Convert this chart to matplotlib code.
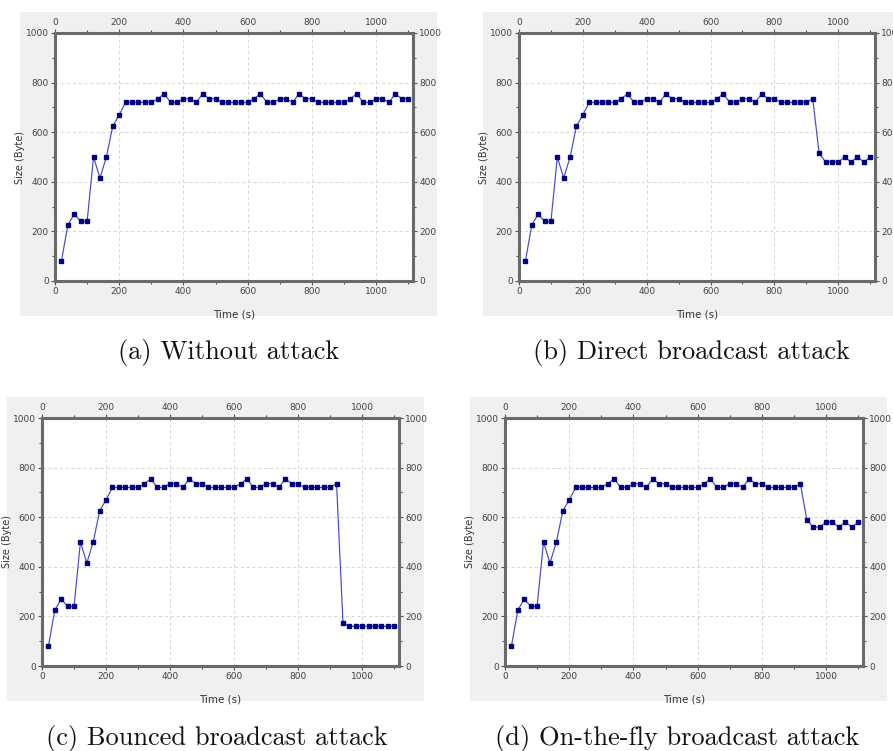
import matplotlib
matplotlib.use("Agg")
import matplotlib.pyplot as plt
from matplotlib.patches import Rectangle
from matplotlib.ticker import MultipleLocator

W, H = 893, 751

time_s = list(range(20, 1101, 20))

common = [80, 225, 270, 240, 240, 500, 415, 500, 625, 670,
          720, 720, 720, 720, 720, 735, 755, 720, 720, 735,
          735, 720, 755, 735, 735, 720, 720, 720, 720, 720,
          735, 755, 720, 720, 735, 735, 720, 755, 735, 735,
          720, 720, 720, 720, 720, 735]  # t = 20 .. 920

without_tail = [755, 720, 720, 735, 735, 720, 755, 735, 735]
direct_tail = [515, 480, 480, 480, 500, 480, 500, 480, 500]
bounced_tail = [175, 160, 160, 160, 160, 160, 160, 160, 160]
onthefly_tail = [590, 560, 560, 580, 580, 560, 580, 560, 580]

size_without = common + without_tail
size_direct = common + direct_tail
size_bounced = common + bounced_tail
size_onthefly = common + onthefly_tail

captions = ["(a) Without attack", "(b) Direct broadcast attack",
            "(c) Bounced broadcast attack", "(d) On-the-fly broadcast attack"]
series = [size_without, size_direct, size_bounced, size_onthefly]

layouts = [
    ((20, 12, 437, 316), (55, 33, 413, 281), 229, 352),
    ((483, 12, 893, 316), (519, 33, 875, 281), 691, 352),
    ((7, 397, 424, 701), (42, 418, 399, 666), 217, 738),
    ((470, 397, 887, 701), (505, 418, 863, 666), 677, 738),
]

fig = plt.figure(figsize=(W / 100, H / 100), dpi=100)
fig.patch.set_facecolor("white")

tick_family = ["Liberation Sans Narrow", "DejaVu Sans"]
tick_color = "#4a4040"

for (bg, axr, cx, cy), ys, cap in zip(layouts, series, captions):
    bx0, by0, bx1, by1 = bg
    fig.patches.append(Rectangle((bx0 / W, 1 - by1 / H), (bx1 - bx0) / W, (by1 - by0) / H,
                                 transform=fig.transFigure, facecolor="#f0f0f0",
                                 edgecolor="none", zorder=-5))
    x0, y0, x1, y1 = axr
    aw, ah = x1 - x0, y1 - y0
    ax = fig.add_axes([x0 / W, 1 - y1 / H, aw / W, ah / H], zorder=2)
    ax.set_facecolor("white")
    ax.plot(time_s, ys, color="#4848cc", lw=0.85, marker="s", markersize=3.0,
            markerfacecolor="#000080", markeredgecolor="#000080", zorder=3)
    ax.set_xlim(0, 1115)
    ax.set_ylim(0, 1000)
    ax.xaxis.set_major_locator(MultipleLocator(200))
    ax.xaxis.set_minor_locator(MultipleLocator(100))
    ax.yaxis.set_major_locator(MultipleLocator(200))
    ax.yaxis.set_minor_locator(MultipleLocator(100))
    ax.grid(True, which="major", color="#d4d4d4", linestyle=(0, (3, 3)), lw=0.7)
    ax.set_axisbelow(True)
    for sp in ax.spines.values():
        sp.set_color("#6a6a6a")
        sp.set_linewidth(2.2)
    ax.tick_params(which="both", direction="out", top=True, right=True,
                   labeltop=True, labelright=True, color="#555555",
                   labelcolor=tick_color, pad=1.5)
    ax.tick_params(which="major", length=3, width=0.8)
    ax.tick_params(which="minor", length=2, width=0.8)
    for lab in ax.get_xticklabels() + ax.get_yticklabels():
        lab.set_fontfamily(tick_family)
        lab.set_fontsize(6.5)
    ax.set_xlabel("Time (s)", fontsize=7.5, family=tick_family, color="#333333")
    ax.set_ylabel("Size (Byte)", fontsize=7, color="#333333")
    ax.xaxis.set_label_coords(0.5, -29 / ah)
    ax.yaxis.set_label_coords(-30 / aw, 0.5)
    fig.text(cx / W, 1 - cy / H, cap, ha="center", va="center",
             family=["cmr10", "DejaVu Serif"], fontsize=19, color="#111111")

fig.savefig("out.png", dpi=100)
